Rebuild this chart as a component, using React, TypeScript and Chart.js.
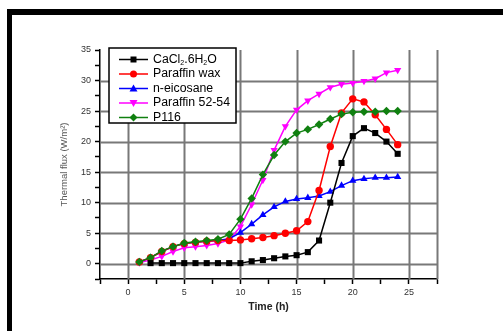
import React, { useEffect, useRef } from "react";
import { Chart, registerables } from "chart.js";

Chart.register(...registerables);

const hours = [1, 2, 3, 4, 5, 6, 7, 8, 9, 10, 11, 12, 13, 14, 15, 16, 17, 18, 19, 20, 21, 22, 23, 24];
const cacl2Hours = [2, 3, 4, 5, 6, 7, 8, 9, 10, 11, 12, 13, 14, 15, 16, 17, 18, 19, 20, 21, 22, 23, 24];
const cacl2 = [0.1, 0.1, 0.1, 0.1, 0.1, 0.1, 0.1, 0.1, 0.1, 0.4, 0.6, 0.9, 1.2, 1.4, 1.9, 3.8, 10.0, 16.5, 20.9, 22.2, 21.4, 20.0, 18.0];
const paraffinWax = [0.3, 1.0, 2.0, 2.8, 3.3, 3.5, 3.7, 3.8, 3.8, 3.9, 4.1, 4.3, 4.6, 5.0, 5.4, 6.9, 12.0, 19.2, 24.7, 27.0, 26.5, 24.4, 22.0, 19.5];
const nEicosane = [0.3, 1.0, 2.0, 2.8, 3.3, 3.5, 3.7, 3.8, 4.1, 5.1, 6.5, 8.0, 9.3, 10.2, 10.6, 10.8, 11.1, 11.8, 12.8, 13.6, 13.9, 14.1, 14.1, 14.2];
const paraffin5254 = [0.2, 0.6, 1.2, 2.0, 2.6, 2.8, 3.0, 3.3, 3.9, 6.1, 9.7, 13.7, 18.6, 22.5, 25.2, 26.7, 27.8, 28.9, 29.4, 29.6, 29.9, 30.3, 31.3, 31.7];
const p116 = [0.3, 1.0, 2.1, 2.8, 3.4, 3.6, 3.8, 4.0, 4.8, 7.3, 10.7, 14.6, 17.8, 20.0, 21.4, 22.0, 22.8, 23.7, 24.5, 24.8, 24.9, 24.9, 25.0, 25.0];

const seriesNames = ["CaCl2.6H2O", "Paraffin wax", "n-eicosane", "Paraffin 52-54", "P116"];
const seriesColors = ["#000000", "#ff0000", "#0000ff", "#ff00ff", "#108010"];
const xTickLabels = ["0", "5", "10", "15", "20", "25"];
const yTickLabels = ["0", "5", "10", "15", "20", "25", "30", "35"];
const xGridValues = [0, 5, 10, 15, 20, 25, 27.5];
const yGridValues = [0, 5, 10, 15, 20, 25, 30];

const FONT = "'Liberation Sans', Arial, sans-serif";

const toPoints = (xs: number[], ys: number[]) => xs.map((x, i) => ({ x, y: ys[i] }));

function drawMarker(ctx: CanvasRenderingContext2D, kind: string, x: number, y: number, color: string) {
  ctx.save();
  ctx.fillStyle = color;
  ctx.beginPath();
  if (kind === "rect") {
    ctx.rect(x - 3, y - 3, 6, 6);
  } else if (kind === "circle") {
    ctx.arc(x, y, 3.5, 0, Math.PI * 2);
  } else if (kind === "triangle") {
    ctx.moveTo(x, y - 4);
    ctx.lineTo(x + 4, y + 3);
    ctx.lineTo(x - 4, y + 3);
  } else if (kind === "down") {
    ctx.moveTo(x, y + 4);
    ctx.lineTo(x + 4, y - 3);
    ctx.lineTo(x - 4, y - 3);
  } else {
    ctx.moveTo(x, y - 4);
    ctx.lineTo(x + 4, y);
    ctx.lineTo(x, y + 4);
    ctx.lineTo(x - 4, y);
  }
  ctx.closePath();
  ctx.fill();
  ctx.restore();
}

const gridPlugin = {
  id: "customGrid",
  afterDraw(chart: any) {
    // no-op placeholder
  },
  beforeDatasetsDraw(chart: any) {
    const ctx: CanvasRenderingContext2D = chart.ctx;
    const { left, right, top, bottom } = chart.chartArea;
    const xs = chart.scales.x;
    const ys = chart.scales.y;
    ctx.save();
    ctx.globalAlpha = 1;
    ctx.setLineDash([]);
    ctx.strokeStyle = "rgb(120,120,120)";
    ctx.lineWidth = 2;
    ctx.beginPath();
    xGridValues.forEach((v) => {
      const px = Math.round(xs.getPixelForValue(v)) + 0.5;
      ctx.moveTo(px, top);
      ctx.lineTo(px, bottom);
    });
    yGridValues.forEach((v) => {
      const py = Math.round(ys.getPixelForValue(v)) + 0.5;
      ctx.moveTo(left, py);
      ctx.lineTo(right, py);
    });
    ctx.stroke();
    ctx.restore();
  },
};

const legendPlugin = {
  id: "boxLegend",
  afterDatasetsDraw(chart: any) {
    const ctx: CanvasRenderingContext2D = chart.ctx;
    const left = chart.chartArea.left + 9;
    const top = chart.chartArea.top - 2;
    const w = 127;
    const h = 75;
    ctx.save();
    ctx.fillStyle = "#fff";
    ctx.fillRect(left, top, w, h);
    ctx.strokeStyle = "#000";
    ctx.lineWidth = 1.5;
    ctx.strokeRect(left, top, w, h);
    const kinds = ["rect", "circle", "triangle", "down", "diamond"];
    ctx.textBaseline = "middle";
    seriesNames.forEach((name, i) => {
      const y = top + 11.5 + i * 14.5;
      ctx.strokeStyle = seriesColors[i];
      ctx.lineWidth = 1.5;
      ctx.beginPath();
      ctx.moveTo(left + 10, y);
      ctx.lineTo(left + 39, y);
      ctx.stroke();
      drawMarker(ctx, kinds[i], left + 24.5, y, seriesColors[i]);
      ctx.fillStyle = "#000";
      let tx = left + 44;
      if (i === 0) {
        const parts: [string, boolean][] = [["CaCl", false], ["2", true], [".6H", false], ["2", true], ["O", false]];
        parts.forEach(([t, sub]) => {
          ctx.font = sub ? `7px ${FONT}` : `12.3px ${FONT}`;
          ctx.fillText(t, tx, sub ? y + 4 : y);
          tx += ctx.measureText(t).width;
        });
      } else {
        ctx.font = `12.3px ${FONT}`;
        ctx.fillText(name, tx, y);
      }
    });
    ctx.restore();
  },
};

export default function App() {
  const canvasRef = useRef<HTMLCanvasElement | null>(null);

  useEffect(() => {
    if (!canvasRef.current) return;
    const mk = (label: string, data: any[], color: string, style: string, radius: number, order: number, rotation = 0) => ({
      label,
      data,
      borderColor: color,
      backgroundColor: color,
      borderWidth: 1.5,
      pointStyle: style,
      pointRadius: radius,
      pointRotation: rotation,
      pointBorderWidth: 0,
      pointBackgroundColor: color,
      tension: 0,
      order,
    });
    const chart = new Chart(canvasRef.current, {
      type: "line",
      data: {
        datasets: [
          mk(seriesNames[0], toPoints(cacl2Hours, cacl2), seriesColors[0], "rect", 4.3, 0),
          mk(seriesNames[1], toPoints(hours, paraffinWax), seriesColors[1], "circle", 3.7, 2),
          mk(seriesNames[2], toPoints(hours, nEicosane), seriesColors[2], "triangle", 4.2, 3),
          mk(seriesNames[3], toPoints(hours, paraffin5254), seriesColors[3], "triangle", 4.2, 4, 180),
          mk(seriesNames[4], toPoints(hours, p116), seriesColors[4], "rectRot", 4.2, 1),
        ] as any,
      },
      options: {
        animation: false,
        responsive: false,
        layout: { padding: { left: 12, right: 66, top: 50, bottom: 12 } },
        plugins: { legend: { display: false }, tooltip: { enabled: false } },
        scales: {
          x: {
            type: "linear",
            min: -2.5,
            max: 27.5,
            afterFit: (s: any) => { s.height = 40; },
            ticks: {
              stepSize: 2.5,
              autoSkip: false,
              maxRotation: 0,
              padding: 3,
              color: "#333",
              font: { size: 9, family: FONT },
              callback: (v: any) => {
                const i = xTickLabels.indexOf(String(v));
                return i >= 0 ? xTickLabels[i] : "";
              },
            },
            grid: {
              drawOnChartArea: false,
              tickColor: "#000",
              tickWidth: 1.5,
              tickLength: 5,
            },
            border: { color: "#000", width: 1.5 },
            title: {
              display: true,
              text: "Time (h)",
              color: "#222",
              font: { size: 10.5, weight: "bold", family: FONT },
              padding: { top: 6, bottom: 6 },
            },
          },
          y: {
            type: "linear",
            min: -2.5,
            max: 35,
            afterFit: (s: any) => { s.width = 88; },
            ticks: {
              stepSize: 2.5,
              autoSkip: false,
              padding: 4,
              color: "#333",
              font: { size: 9, family: FONT },
              callback: (v: any) => {
                const i = yTickLabels.indexOf(String(v));
                return i >= 0 ? yTickLabels[i] : "";
              },
            },
            grid: {
              drawOnChartArea: false,
              tickColor: "#000",
              tickWidth: 1.5,
              tickLength: 5,
            },
            border: { color: "#000", width: 1.5 },
            title: {
              display: true,
              text: "Thermal flux (W/m²)",
              color: "#555",
              font: { size: 9.5, family: FONT },
              padding: { top: 47, bottom: 0 },
            },
          },
        },
      } as any,
      plugins: [gridPlugin, legendPlugin],
    });
    return () => chart.destroy();
  }, []);

  return (
    <div style={{ position: "absolute", left: 0, top: 0, width: 503, height: 331, background: "#fff", overflow: "hidden" }}>
      <canvas ref={canvasRef} width={503} height={331} style={{ position: "absolute", left: 0, top: 0, width: 503, height: 331 }} />
      <div style={{ position: "absolute", left: 7, top: 9, width: 496, height: 6, background: "#000" }} />
      <div style={{ position: "absolute", left: 7, top: 9, width: 5, height: 322, background: "#000" }} />
    </div>
  );
}
